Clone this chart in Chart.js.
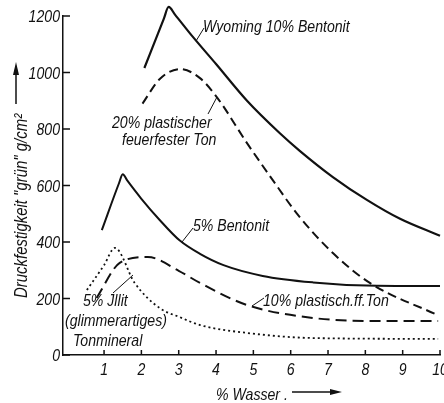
<!DOCTYPE html>
<html>
<head>
<meta charset="utf-8">
<script src="https://cdn.jsdelivr.net/npm/chart.js@4"></script>
<style>
  html, body { margin: 0; padding: 0; background: #fff; }
  canvas { display: block; }
</style>
</head>
<body>
<canvas id="grafico" width="444" height="403"></canvas>
<script>
// Werte (% Wasser / Druckfestigkeit g/cm²)
const wyomingX = [2.08, 2.6, 2.73, 2.9, 3.38, 4.0, 4.83, 5.71, 6.25, 7.13, 8.04, 8.93, 10.0];
const wyomingY = [1016, 1190, 1232, 1205, 1126, 1030, 900, 785, 722, 630, 549, 482, 422];

const ton20X = [2.03, 2.5, 3.05, 3.57, 4.02, 4.83, 5.52, 6.2, 7.13, 8.12, 9.92];
const ton20Y = [890, 978, 1012, 980, 913, 750, 619, 495, 361, 255, 142];

const bentonit5X = [0.94, 1.4, 1.5, 1.62, 2.0, 2.49, 3.03, 3.57, 4.2, 5.25, 6.6, 8.04, 10.0];
const bentonit5Y = [442, 608, 640, 618, 553, 478, 405, 358, 318, 280, 257, 246, 244];

const ton10X = [0.8, 1.42, 2.17, 3.0, 3.57, 4.83, 6.6, 8.4, 9.95];
const ton10Y = [202, 326, 347, 298, 255, 177, 131, 120, 120];

const illitX = [0.54, 1.0, 1.29, 1.82, 2.49, 3.03, 3.57, 4.83, 6.6, 9.95];
const illitY = [230, 318, 379, 255, 166, 134, 106, 78, 60, 57];

const xTicks = [1, 2, 3, 4, 5, 6, 7, 8, 9, 10];
const yTicks = [0, 200, 400, 600, 800, 1000, 1200];

const schrift = '"Liberation Sans", Arial, sans-serif';
const schmal = 0.83; // schmale Schrift wie im Original

function punkte(xs, ys) {
    return xs.map((x, i) => ({ x: x, y: ys[i] }));
}

function kurve(xs, ys, dash, breite) {
    return {
        data: punkte(xs, ys),
        borderColor: '#111',
        borderWidth: breite,
        borderDash: dash,
        borderCapStyle: 'butt',
        pointRadius: 0,
        cubicInterpolationMode: 'monotone',
        fill: false,
        clip: false
    };
}

// schmal gestauchten, kursiven Text schreiben
function text(ctx, s, x, y, groesse, ausrichtung) {
    ctx.save();
    ctx.font = 'italic ' + groesse + 'px ' + schrift;
    ctx.textAlign = ausrichtung || 'left';
    ctx.textBaseline = 'alphabetic';
    ctx.translate(x, y);
    ctx.scale(schmal, 1);
    ctx.fillText(s, 0, 0);
    ctx.restore();
}

// Striche an den Achsen (nach innen) und Beschriftungen
const beschriftung = {
    id: 'beschriftung',
    afterDraw(chart) {
        const ctx = chart.ctx;
        const xs = chart.scales.x, ys = chart.scales.y;
        const a = chart.chartArea;
        ctx.save();
        ctx.strokeStyle = '#111';
        ctx.fillStyle = '#111';
        ctx.lineWidth = 1.5;

        // Teilstriche und Zahlen
        ctx.beginPath();
        yTicks.forEach(v => {
            const py = ys.getPixelForValue(v);
            ctx.moveTo(a.left, py);
            ctx.lineTo(a.left + 7, py);
            text(ctx, String(v), a.left - 3, py + 6, 17, 'right');
        });
        xTicks.forEach(v => {
            const px = xs.getPixelForValue(v);
            ctx.moveTo(px, a.bottom);
            ctx.lineTo(px, a.bottom - 5);
            text(ctx, String(v), px, a.bottom + 20, 17, 'center');
        });
        ctx.stroke();

        // Kurvenbeschriftungen
        text(ctx, 'Wyoming 10% Bentonit', 203, 32, 17);
        text(ctx, '20% plastischer', 112, 128, 17);
        text(ctx, 'feuerfester Ton', 122, 145, 17);
        text(ctx, '5% Bentonit', 193, 231, 17);
        text(ctx, '10% plastisch.ff.Ton', 263, 306, 17);
        text(ctx, '5% Jllit', 83, 306, 17);
        text(ctx, '(glimmerartiges)', 65, 326, 17);
        text(ctx, 'Tonmineral', 73, 346, 17);

        // Hinweislinien
        ctx.lineWidth = 1;
        ctx.beginPath();
        ctx.moveTo(196, 41); ctx.lineTo(204, 28);
        ctx.moveTo(217, 97); ctx.lineTo(208, 114);
        ctx.moveTo(182, 242); ctx.lineTo(193, 228);
        ctx.moveTo(252, 306); ctx.lineTo(264, 298);
        ctx.moveTo(113, 293); ctx.lineTo(133, 275);
        ctx.stroke();

        // Achsentitel y
        ctx.save();
        ctx.translate(27, 298);
        ctx.rotate(-Math.PI / 2);
        ctx.font = 'italic 18px ' + schrift;
        ctx.scale(schmal, 1);
        ctx.fillText('Druckfestigkeit "grün" g/cm²', 0, 0);
        ctx.restore();

        ctx.lineWidth = 1.5;
        ctx.beginPath();
        ctx.moveTo(16, 104); ctx.lineTo(16, 72);
        ctx.stroke();
        ctx.beginPath();
        ctx.moveTo(16, 62); ctx.lineTo(19, 75); ctx.lineTo(13, 75);
        ctx.closePath();
        ctx.fill();

        // Achsentitel x
        text(ctx, '% Wasser .', 216, 400, 17);
        ctx.beginPath();
        ctx.moveTo(292, 392); ctx.lineTo(332, 392);
        ctx.stroke();
        ctx.beginPath();
        ctx.moveTo(342, 392); ctx.lineTo(330, 389); ctx.lineTo(330, 395);
        ctx.closePath();
        ctx.fill();
        ctx.restore();
    }
};

new Chart(document.getElementById('grafico'), {
    type: 'line',
    data: {
        datasets: [
            kurve(wyomingX, wyomingY, [], 2.2),
            kurve(ton20X, ton20Y, [9, 5], 2),
            kurve(bentonit5X, bentonit5Y, [], 2),
            kurve(ton10X, ton10Y, [11, 6], 2),
            kurve(illitX, illitY, [2, 3], 1.8)
        ]
    },
    options: {
        responsive: false,
        animation: false,
        layout: { padding: { top: 16, right: 4, left: 0, bottom: 0 } },
        plugins: { legend: { display: false }, tooltip: { enabled: false } },
        scales: {
            x: {
                type: 'linear',
                min: -0.1,
                max: 10,
                afterBuildTicks: s => { s.ticks = xTicks.map(v => ({ value: v })); },
                afterFit: s => { s.height = 48; s.paddingLeft = 0; s.paddingRight = 0; },
                grid: { display: true, drawOnChartArea: false, drawTicks: false },
                border: { display: true, color: '#111', width: 1.5 },
                ticks: { display: false }
            },
            y: {
                min: 0,
                max: 1200,
                afterBuildTicks: s => { s.ticks = yTicks.map(v => ({ value: v })); },
                afterFit: s => { s.width = 63; s.paddingTop = 0; s.paddingBottom = 0; },
                grid: { display: true, drawOnChartArea: false, drawTicks: false },
                border: { display: true, color: '#111', width: 1.5 },
                ticks: { display: false }
            }
        }
    },
    plugins: [beschriftung]
});
</script>
</body>
</html>
